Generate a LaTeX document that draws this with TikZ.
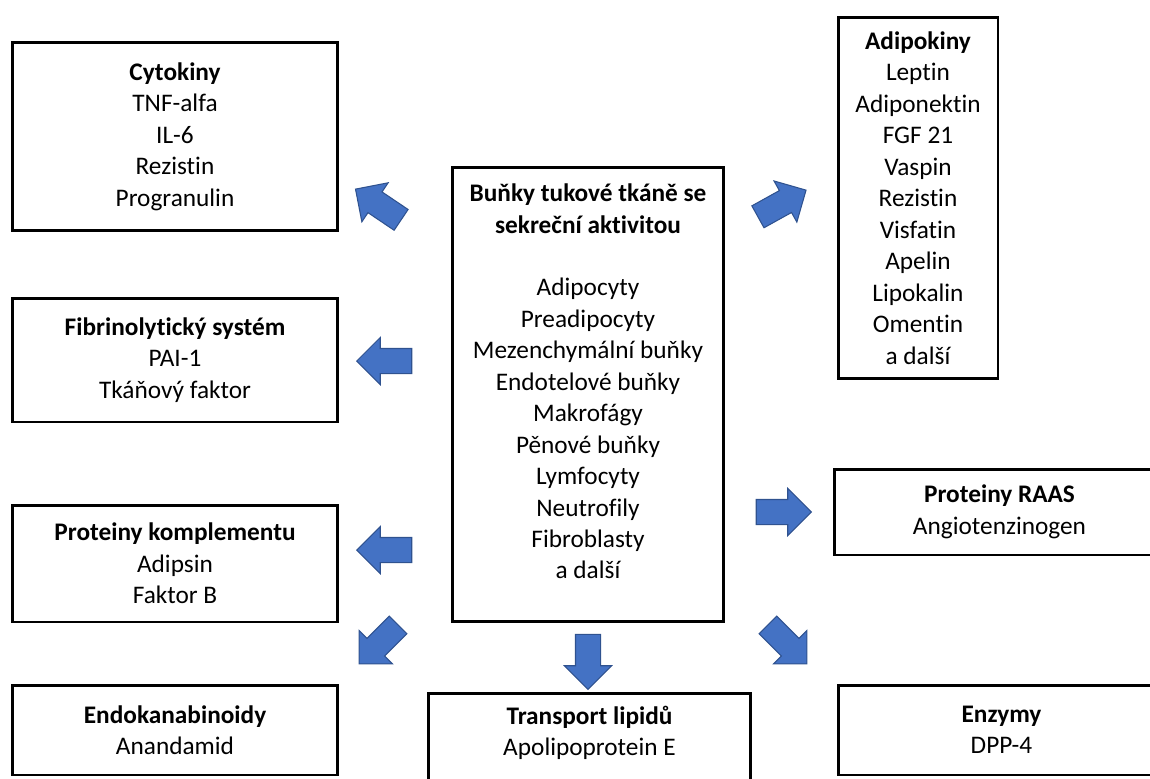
\documentclass[tikz,border=0pt]{standalone}
\usepackage{fontspec}
\setmainfont{Carlito}[Ligatures=NoCommon]
\usetikzlibrary{shapes.arrows,positioning}
\definecolor{arrowfill}{HTML}{4472C4}
\definecolor{arrowline}{HTML}{2F528F}

\begin{document}
\begin{tikzpicture}[x=0.02cm,y=-0.02cm,
  font=\fontsize{14.4}{17.9}\selectfont,
  box/.style={rectangle,draw,line width=1.7pt,align=center,inner sep=0pt},
  blue arrow/.style={single arrow,draw=arrowline,fill=arrowfill,line width=0.6pt,
    minimum height=1.1cm,inner sep=0.24cm,single arrow head extend=0.22cm}]

  \clip (0,0) rectangle (1150,778);

  % centre box
  \node[box,minimum width=5.44cm,minimum height=9.1cm] (0) at (588,394.5) {};
  \node[align=center] (0t) at (588,381.5) {\textbf{Buňky tukové tkáně se}\\\textbf{sekreční aktivitou}\\[17.9pt]
    Adipocyty\\Preadipocyty\\Mezenchymální buňky\\Endotelové buňky\\Makrofágy\\
    Pěnové buňky\\Lymfocyty\\Neutrofily\\Fibroblasty\\a další};

  % left column
  \node[box,minimum width=6.52cm,minimum height=3.78cm] (1) at (175,136.5)
    {\textbf{Cytokiny}\\TNF-alfa\\IL-6\\Rezistin\\Progranulin};
  \node[box,minimum width=6.52cm,minimum height=2.48cm] (2) at (175,360)
    {\textbf{Fibrinolytický systém}\\PAI-1\\Tkáňový faktor};
  \node[box,minimum width=6.52cm,minimum height=2.34cm] (3) at (175,563.5)
    {\textbf{Proteiny komplementu}\\Adipsin\\Faktor B};
  \node[box,minimum width=6.52cm,minimum height=1.8cm] (4) at (175,730)
    {\textbf{Endokanabinoidy}\\Anandamid};

  % bottom
  \node[box,minimum width=6.46cm,minimum height=2.14cm] (5) at (589.5,746.5) {};
  \node[align=center] (5t) at (589.5,733) {\textbf{Transport lipidů}\\Apolipoprotein E};

  % right column
  \node[box,minimum width=6.54cm,minimum height=1.8cm] (6) at (1001.5,730)
    {\textbf{Enzymy}\\DPP-4};
  \node[box,minimum width=6.62cm,minimum height=1.72cm] (7) at (999.5,512)
    {\textbf{Proteiny RAAS}\\Angiotenzinogen};
  \node[box,minimum width=3.2cm,minimum height=7.24cm] (8) at (918,198)
    {\textbf{Adipokiny}\\Leptin\\Adiponektin\\FGF 21\\Vaspin\\Rezistin\\Visfatin\\
    Apelin\\Lipokalin\\Omentin\\a další};

  % block arrows
  \node[blue arrow,rotate=146] (a1) at (383.5,208) {};
  \node[blue arrow,rotate=180] (a2) at (390.5,361) {};
  \node[blue arrow,rotate=180] (a3) at (390.5,550) {};
  \node[blue arrow,rotate=225] (a4) at (383,640) {};
  \node[blue arrow,rotate=270] (a5) at (588,655.5) {};
  \node[blue arrow,rotate=315] (a6) at (783,640) {};
  \node[blue arrow] (a7) at (777.5,512) {};
  \node[blue arrow,rotate=29] (a8) at (776.5,206.5) {};
\end{tikzpicture}
\end{document}
